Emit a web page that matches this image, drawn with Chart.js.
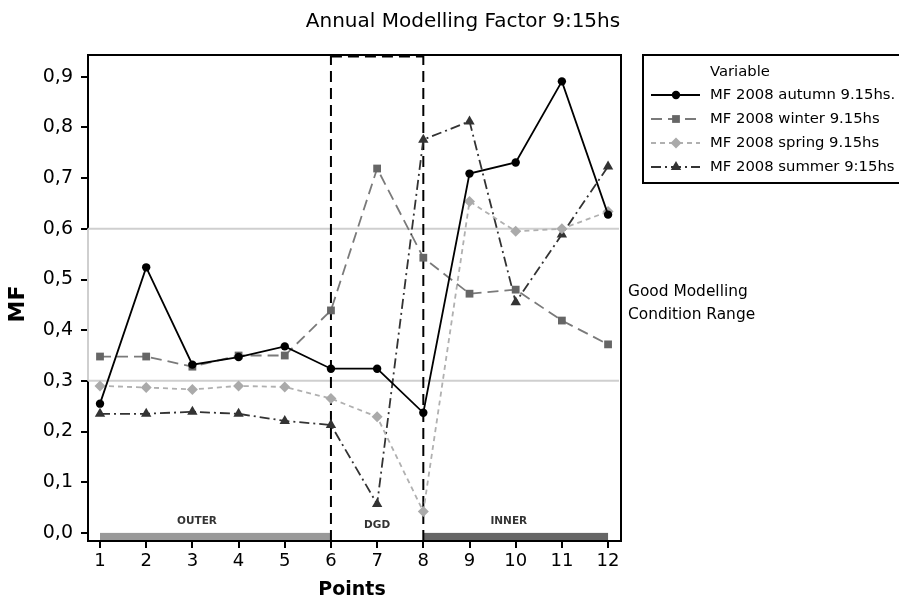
<!DOCTYPE html>
<html><head><meta charset="utf-8">
<script src="https://cdn.jsdelivr.net/npm/chart.js@4/dist/chart.umd.min.js"></script>
<style>html,body{margin:0;padding:0;background:#fff}#wrap{width:899px;height:601px;position:relative;overflow:hidden}</style>
</head><body><div id="wrap"><canvas id="c" width="899" height="601"></canvas></div>
<script>
const points = [1,2,3,4,5,6,7,8,9,10,11,12];
const autumn = [0.255,0.524,0.332,0.347,0.368,0.324,0.324,0.237,0.709,0.731,0.891,0.628];
const winter = [0.348,0.348,0.328,0.350,0.350,0.439,0.719,0.543,0.472,0.480,0.419,0.372];
const spring = [0.290,0.287,0.283,0.290,0.288,0.265,0.229,0.042,0.654,0.595,0.600,0.634];
const summer = [0.235,0.235,0.239,0.235,0.221,0.213,0.057,0.776,0.812,0.455,0.589,0.723];
const seriesNames = ['MF 2008 autumn 9.15hs.','MF 2008 winter 9.15hs','MF 2008 spring 9.15hs','MF 2008 summer 9:15hs'];
const yTicks = [0,0.1,0.2,0.3,0.4,0.5,0.6,0.7,0.8,0.9];
const zoneLabels = ['OUTER','DGD','INNER'];
const zoneStart = [1,6,8];
const zoneEnd = [6,8,12];
const goodRange = [0.3,0.6];
const noteLines = ['Good Modelling','Condition Range'];
const titleText = 'Annual Modelling Factor 9:15hs';
const xTitle = 'Points';
const yTitle = 'MF';
const legendTitle = 'Variable';

const styles = [
  {color:'#000000', marker:'#000000', dash:[], pt:'circle', r:4.2},
  {color:'#7a7a7a', marker:'#666666', dash:[11,6], pt:'rect', r:5.5},
  {color:'#b0b0b0', marker:'#aaaaaa', dash:[5,4], pt:'rectRot', r:5.5},
  {color:'#333333', marker:'#333333', dash:[10,4,2,4], pt:'triangle', r:6}
];
const seriesData = [autumn, winter, spring, summer];
const FONT = '"DejaVu Sans", Verdana, sans-serif';

const datasets = seriesData.map((arr,i)=>({
  label: seriesNames[i],
  data: points.map((p,j)=>({x:p, y:arr[j]})),
  borderColor: styles[i].color,
  backgroundColor: styles[i].marker,
  pointBackgroundColor: styles[i].marker,
  pointBorderColor: styles[i].marker,
  pointBorderWidth: 0,
  borderWidth: 1.8,
  borderDash: styles[i].dash,
  pointStyle: styles[i].pt,
  pointRadius: styles[i].r,
  tension: 0
}));

const decor = {
  id:'decor',
  beforeDatasetsDraw(chart){
    const {ctx, chartArea:a, scales:{x,y}} = chart;
    ctx.save();
    ctx.strokeStyle = '#cfcfcf'; ctx.lineWidth = 2;
    goodRange.forEach(v=>{ const py=y.getPixelForValue(v); ctx.beginPath(); ctx.moveTo(a.left, py); ctx.lineTo(a.right-2, py); ctx.stroke(); });
    ctx.beginPath(); ctx.moveTo(a.left, y.getPixelForValue(goodRange[1])); ctx.lineTo(a.left, y.getPixelForValue(goodRange[0])); ctx.stroke();
    ctx.strokeStyle = '#000'; ctx.lineWidth = 2;
    ctx.beginPath(); ctx.moveTo(a.left-1, a.top); ctx.lineTo(a.right, a.top); ctx.lineTo(a.right, a.bottom+1); ctx.stroke();
    const y0 = y.getPixelForValue(0);
    const bandCols = ['#999999', null, '#666666'];
    zoneLabels.forEach((lab,i)=>{
      if(bandCols[i]){ ctx.fillStyle = bandCols[i]; const x1=x.getPixelForValue(zoneStart[i]), x2=x.getPixelForValue(zoneEnd[i]); ctx.fillRect(x1, y0, x2-x1, a.bottom-1-y0); }
    });
    ctx.fillStyle = '#333'; ctx.font = 'bold 10.5px ' + FONT; ctx.textAlign='center'; ctx.textBaseline='middle';
    const labX = [3.1, 7, 9.85];
    const labY = [521, 525, 521];
    zoneLabels.forEach((lab,i)=>{ ctx.fillText(lab, x.getPixelForValue(labX[i]), labY[i]); });
    ctx.strokeStyle = '#000'; ctx.lineWidth = 2; ctx.setLineDash([11,6]);
    const xa = x.getPixelForValue(zoneStart[1]), xb = x.getPixelForValue(zoneEnd[1]);
    ctx.beginPath(); ctx.moveTo(xa, a.bottom); ctx.lineTo(xa, a.top+1); ctx.stroke();
    ctx.beginPath(); ctx.moveTo(xb, a.bottom); ctx.lineTo(xb, a.top+1); ctx.stroke();
    ctx.lineWidth = 3;
    ctx.beginPath(); ctx.moveTo(xa, a.top+1); ctx.lineTo(xb, a.top+1); ctx.stroke();
    ctx.restore();
  },
  afterDraw(chart){
    const {ctx, chartArea:a} = chart;
    ctx.save();
    ctx.fillStyle = '#000';
    ctx.textBaseline = 'middle';
    ctx.font = '20px ' + FONT; ctx.textAlign = 'center';
    ctx.fillText(titleText, 463, 22);
    ctx.font = 'bold 19px ' + FONT;
    ctx.fillText(xTitle, 352, 590);
    ctx.save(); ctx.translate(18, 304); ctx.rotate(-Math.PI/2); ctx.font = 'bold 22px ' + FONT; ctx.fillText(yTitle, 0, 0); ctx.restore();
    ctx.strokeStyle = '#000'; ctx.lineWidth = 2;
    ctx.strokeRect(643, 55, 300, 128);
    ctx.font = '14.8px ' + FONT; ctx.textAlign = 'left';
    ctx.fillText(legendTitle, 710, 72);
    const ly = [95,119,143,167];
    seriesNames.forEach((n,i)=>{
      const s = styles[i];
      ctx.save();
      ctx.strokeStyle = s.color; ctx.lineWidth = 2; ctx.setLineDash(s.dash);
      ctx.beginPath(); ctx.moveTo(651, ly[i]); ctx.lineTo(700, ly[i]); ctx.stroke();
      ctx.restore();
      ctx.fillStyle = s.marker;
      Chart.helpers.drawPoint(ctx, {pointStyle:s.pt, radius:s.r, borderWidth:0}, 676, ly[i]);
      ctx.fillStyle = '#000';
      ctx.fillText(n, 710, ly[i]);
    });
    ctx.font = '15.4px ' + FONT;
    ctx.fillText(noteLines[0], 628, 292);
    ctx.fillText(noteLines[1], 628, 315);
    ctx.restore();
  }
};

new Chart(document.getElementById('c'), {
  type:'line',
  data:{datasets},
  options:{
    responsive:false, animation:false, devicePixelRatio:1,
    layout:{padding:{left:0, top:55, right:278, bottom:0}},
    plugins:{legend:{display:false}, title:{display:false}, tooltip:{enabled:false}},
    scales:{
      x:{type:'linear', min:0.74, max:12.28,
        afterBuildTicks(s){ s.ticks = points.map(v=>({value:v})); },
        afterFit(s){ s.height = 60; },
        ticks:{color:'#000', font:{family:FONT, size:18}, padding:3, maxRotation:0, autoSkip:false},
        grid:{drawOnChartArea:false, drawTicks:true, tickLength:7, color:'#000', lineWidth:2},
        border:{display:true, color:'#000', width:2}
      },
      y:{type:'linear', min:-0.016, max:0.943,
        afterBuildTicks(s){ s.ticks = yTicks.map(v=>({value:v})); },
        afterFit(s){ s.width = 88; },
        ticks:{color:'#000', font:{family:FONT, size:19}, padding:8,
          callback:(v)=>v.toFixed(1).replace('.', ',')},
        grid:{drawOnChartArea:false, drawTicks:true, tickLength:7, color:'#000', lineWidth:2},
        border:{display:true, color:'#000', width:2}
      }
    }
  },
  plugins:[decor]
});
</script>
</body></html>
